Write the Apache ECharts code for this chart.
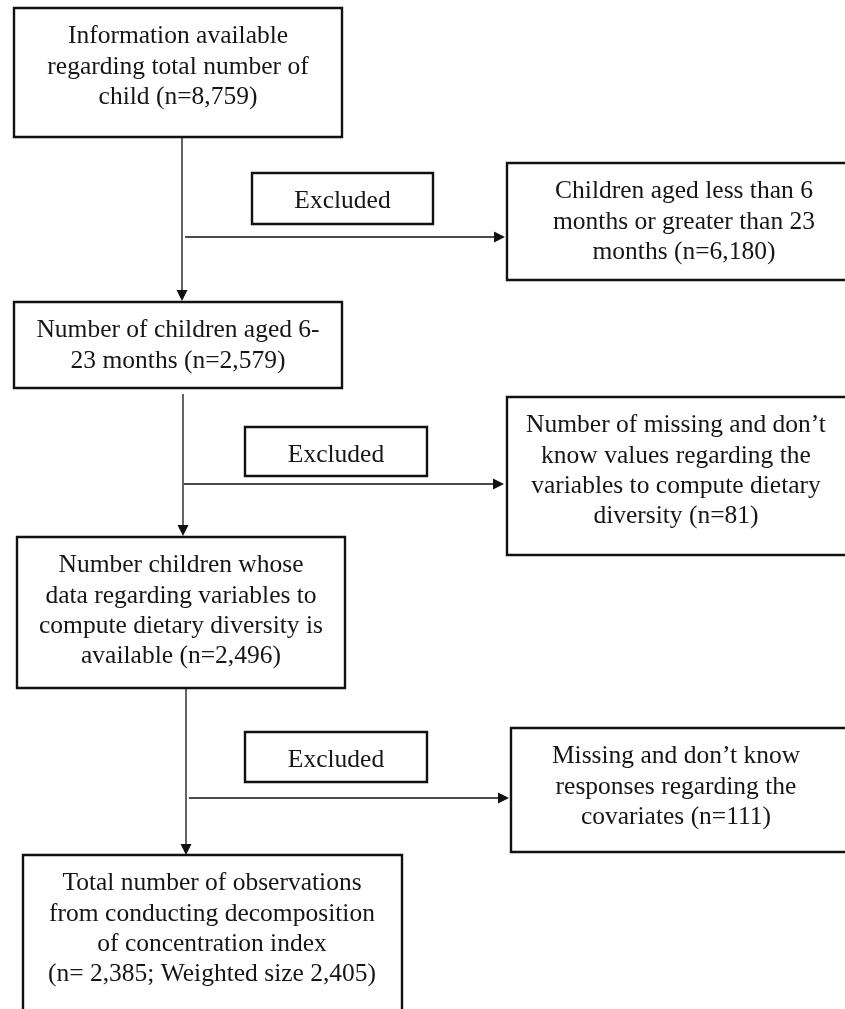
<!DOCTYPE html>
<html><head><meta charset="utf-8">
<script src="https://cdn.jsdelivr.net/npm/echarts@6/dist/echarts.min.js"></script>
<style>html,body{margin:0;padding:0;background:#fff}#c{width:845px;height:1009px}</style>
</head><body><div id="c"></div>
<script>
// ---- data ----
const stepCounts = [8759, 2579, 2496, 2385];
const weightedSize = 2405;
const excludedCounts = [6180, 81, 111];
const excludedLabel = 'Excluded';
const stepTexts = [
  'Information available\nregarding total number of\nchild (n={n})',
  'Number of children aged 6-\n23 months (n={n})',
  'Number children whose\ndata regarding variables to\ncompute dietary diversity is\navailable (n={n})',
  'Total number of observations\nfrom conducting decomposition\nof concentration index\n(n= {n}; Weighted size {w})'
];
const exclusionTexts = [
  'Children aged less than 6\nmonths or greater than 23\nmonths (n={n})',
  'Number of missing and don\u2019t\nknow values regarding the\nvariables to compute dietary\ndiversity (n={n})',
  'Missing and don\u2019t know\nresponses regarding the\ncovariates (n={n})'
];

// ---- layout (positions in axis units) ----
const stepBoxes = [[14,8,342,137],[14,302,342,388],[17,537,345,688],[23,855,402,1040]];
const stepTextX = [178,178,181,212];
const exclBoxes = [[507,163,862,280],[507,397,850,555],[511,728,850,852]];
const exclTextX = [684,676,676];
const tagBoxes = [[252,173,433,224],[245,427,427,476],[245,732,427,782]];
const downArrows = [[182,137,301],[183,394,536],[186,688,855]];
const sideArrows = [[185,505,237],[184,504,484],[189,509,798]];

const fmt = v => v.toLocaleString('en-US');
const stepLabels = stepTexts.map((t,i) => t.replace('{n}', fmt(stepCounts[i])).replace('{w}', fmt(weightedSize)));
const exclLabels = exclusionTexts.map((t,i) => t.replace('{n}', fmt(excludedCounts[i])));

const FONT = { fontFamily: '"Liberation Serif", "Times New Roman", serif', fontSize: 25.5, lineHeight: 30.3, fill: '#161616' };
const TEXT_TOP = 13.5;   // offset of first text line box from box top (px)
const HEAD = 11, HALF = 5.5;

function makeBoxSeries(boxes, textX, labels) {
  return {
    type: 'custom', coordinateSystem: 'cartesian2d', clip: false, silent: true,
    data: boxes.map((b,i) => [b[0], b[1], b[2], b[3], textX[i]]),
    renderItem: function (params, api) {
      const p0 = api.coord([api.value(0), api.value(1)]);
      const p1 = api.coord([api.value(2), api.value(3)]);
      const tx = api.coord([api.value(4), api.value(1)]);
      return {
        type: 'group',
        children: [
          { type: 'rect', shape: { x: p0[0], y: p0[1], width: p1[0]-p0[0], height: p1[1]-p0[1] },
            style: { fill: '#fff', stroke: '#111', lineWidth: 2.4 } },
          { type: 'text', style: Object.assign({ text: labels[params.dataIndex], x: tx[0], y: tx[1] + TEXT_TOP, align: 'center', verticalAlign: 'top' }, FONT) }
        ]
      };
    }
  };
}

const series = [
  makeBoxSeries(stepBoxes, stepTextX, stepLabels),
  makeBoxSeries(exclBoxes, exclTextX, exclLabels),
  makeBoxSeries(tagBoxes, tagBoxes.map(b => (b[0]+b[2])/2), tagBoxes.map(() => excludedLabel)),
  {
    type: 'custom', coordinateSystem: 'cartesian2d', clip: false, silent: true,
    data: downArrows,
    renderItem: function (params, api) {
      const a = api.coord([api.value(0), api.value(1)]);
      const b = api.coord([api.value(0), api.value(2)]);
      return { type: 'group', children: [
        { type: 'line', shape: { x1: a[0], y1: a[1], x2: b[0], y2: b[1] - HEAD + 1 }, style: { stroke: '#111', lineWidth: 1.3 } },
        { type: 'polygon', shape: { points: [[b[0]-HALF, b[1]-HEAD], [b[0]+HALF, b[1]-HEAD], [b[0], b[1]]] }, style: { fill: '#111' } }
      ]};
    }
  },
  {
    type: 'custom', coordinateSystem: 'cartesian2d', clip: false, silent: true,
    data: sideArrows,
    renderItem: function (params, api) {
      const a = api.coord([api.value(0), api.value(2)]);
      const b = api.coord([api.value(1), api.value(2)]);
      return { type: 'group', children: [
        { type: 'line', shape: { x1: a[0], y1: a[1], x2: b[0] - HEAD + 1, y2: b[1] }, style: { stroke: '#111', lineWidth: 1.3 } },
        { type: 'polygon', shape: { points: [[b[0]-HEAD, b[1]-HALF], [b[0]-HEAD, b[1]+HALF], [b[0], b[1]]] }, style: { fill: '#111' } }
      ]};
    }
  }
];

const chart = echarts.init(document.getElementById('c'), null, { renderer: 'canvas' });
chart.setOption({
  animation: false,
  backgroundColor: '#ffffff',
  grid: { left: 0, right: 0, top: 0, bottom: 0, containLabel: false },
  xAxis: { type: 'value', min: 0, max: 845, show: false },
  yAxis: { type: 'value', min: 0, max: 1009, inverse: true, show: false },
  series: series
});
</script>
</body></html>
